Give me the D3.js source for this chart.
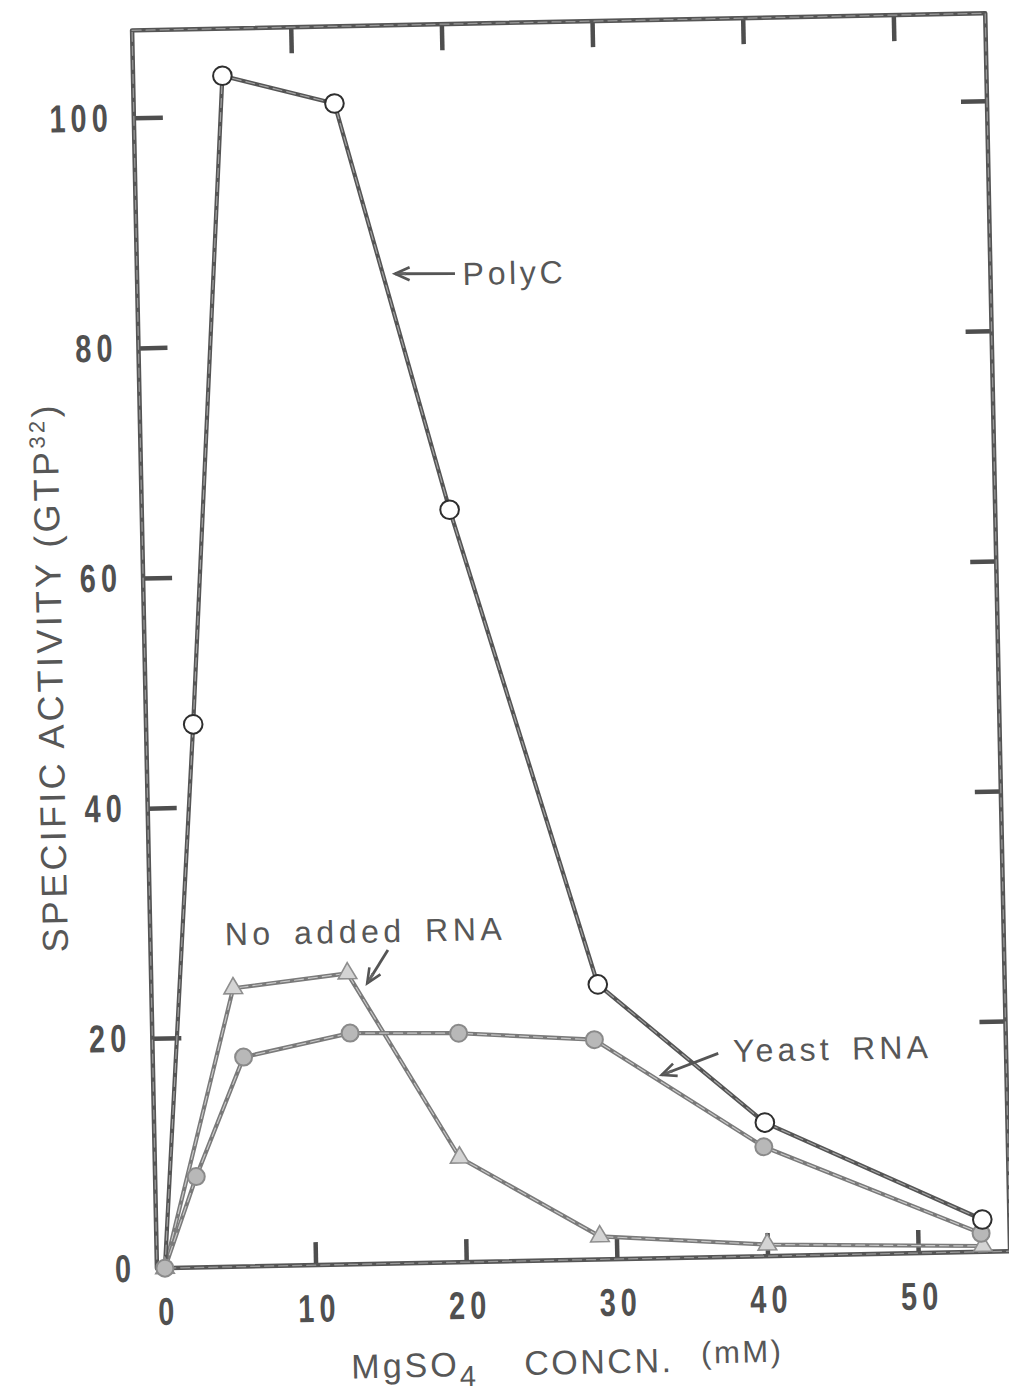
<!DOCTYPE html>
<html>
<head>
<meta charset="utf-8">
<script src="https://cdn.jsdelivr.net/npm/d3@7"></script>
<style>
  html, body { margin: 0; padding: 0; background: #fff; }
  svg { display: block; }
</style>
</head>
<body>
<svg id="chart" width="1009" height="1393"></svg>
<script>
// MgSO4 concentration (mM) vs specific activity (GTP32 incorporation)
const xTicks = [0, 10, 20, 30, 40, 50];
const yTicks = [0, 20, 40, 60, 80, 100];

const polyCConc     = [0, 2.6, 5.4, 12.8, 19.9, 29.1, 40.0, 54.3];
const polyCActivity = [0, 47.2, 103.5, 100.9, 65.4, 23.9, 11.6, 2.8];

const yeastConc     = [0, 2.2, 5.5, 12.6, 19.8, 28.8, 39.9, 54.2];
const yeastActivity = [0, 7.9, 18.2, 20.1, 19.9, 19.1, 9.5, 1.6];

const noRnaConc     = [0, 4.9, 12.5, 19.7, 28.9, 40.0, 54.3];
const noRnaActivity = [0, 24.2, 25.3, 9.1, 2.0, 1.0, 0.5];

const zip = (xs, ys) => xs.map((v, i) => [v, ys[i]]);

const svg = d3.select("#chart");
svg.append("rect").attr("width", 1009).attr("height", 1393).attr("fill", "#fff");

// the whole figure sits slightly tilted on the page
const g = svg.append("g").attr("transform", "rotate(-1.15, 565, 650)");

const x = d3.scaleLinear().domain([0, 50]).range([152.6, 906]);
const y = d3.scaleLinear().domain([0, 100]).range([1260, 109.3]);

const frame = { x0: x(-0.53), x1: x(56.1), y0: y(107.6), y1: y(0) };

const inkDark = "#4e4e4e";
const inkText = "#575757";
const digitFont = "'Liberation Sans', Arial, sans-serif";
const textFont = "'Liberation Sans', Arial, sans-serif";
const digitSqueeze = 0.74;

// doubled stroke gives the inked, slightly hollow line of the print
function inkPath(sel, d, outer, inner, w) {
  sel.append("path").attr("d", d).attr("fill", "none")
    .attr("stroke", outer).attr("stroke-width", w)
    .attr("stroke-linejoin", "round").attr("stroke-linecap", "round");
  sel.append("path").attr("d", d).attr("fill", "none")
    .attr("stroke", inner).attr("stroke-width", Math.max(1, w * 0.28))
    .attr("stroke-linejoin", "round").attr("stroke-linecap", "round")
    .attr("stroke-dasharray", "9 5");
}

// axes (ticks pointing inward); numerals are condensed like the typeset figures
function styleAxis(sel, hideZero) {
  sel.select(".domain").remove();
  sel.selectAll(".tick line").attr("stroke", inkDark).attr("stroke-width", 4.5);
  if (hideZero) sel.selectAll(".tick").filter(d => d === 0).select("line").remove();
  sel.selectAll(".tick text")
    .attr("fill", "#505050")
    .style("font-family", digitFont)
    .style("font-weight", "bold")
    .style("font-size", "39px")
    .style("letter-spacing", "7px");
}

const bottomAxis = g.append("g").attr("transform", `translate(0,${frame.y1})`)
  .call(d3.axisBottom(x).tickValues(xTicks).tickSize(-23).tickPadding(29).tickFormat(d3.format("d")))
  .call(s => styleAxis(s, true));
bottomAxis.selectAll(".tick text")
  .attr("transform", `scale(${digitSqueeze},1)`)
  .attr("dx", 3.5);

const leftAxis = g.append("g").attr("transform", `translate(${frame.x0},0)`)
  .call(d3.axisLeft(y).tickValues(yTicks).tickSize(-29).tickPadding(26 / digitSqueeze).tickFormat(d3.format("d")))
  .call(s => styleAxis(s, true));
leftAxis.selectAll(".tick text")
  .attr("transform", `scale(${digitSqueeze},1)`)
  .attr("dx", 7);

g.append("g").attr("transform", `translate(0,${frame.y0})`)
  .call(d3.axisTop(x).tickValues(xTicks.slice(1)).tickSize(-26).tickFormat(() => ""))
  .call(s => styleAxis(s, false));

g.append("g").attr("transform", `translate(${frame.x1},0)`)
  .call(d3.axisRight(y).tickValues(yTicks.slice(1)).tickSize(-26).tickFormat(() => ""))
  .call(s => styleAxis(s, false));

// frame
inkPath(g, `M${frame.x0},${frame.y0}H${frame.x1}V${frame.y1}H${frame.x0}Z`, "#555", "#9a9a9a", 4.5);

// series lines
const line = d3.line().x(d => x(d[0])).y(d => y(d[1]));
const polyC = zip(polyCConc, polyCActivity);
const yeast = zip(yeastConc, yeastActivity);
const noRna = zip(noRnaConc, noRnaActivity);

inkPath(g, line(noRna), "#7a7a7a", "#c9c9c9", 4.2);
inkPath(g, line(yeast), "#7a7a7a", "#c9c9c9", 4.2);
inkPath(g, line(polyC), "#555", "#a5a5a5", 4.2);

// markers
const tri = d3.symbol().type(d3.symbolTriangle).size(150);
g.append("g").selectAll("path").data(noRna).join("path")
  .attr("d", tri)
  .attr("transform", d => `translate(${x(d[0])},${y(d[1])})`)
  .attr("fill", "#d4d4d4").attr("stroke", "#8e8e8e").attr("stroke-width", 1.6);

g.append("g").selectAll("circle").data(yeast).join("circle")
  .attr("cx", d => x(d[0])).attr("cy", d => y(d[1])).attr("r", 8.5)
  .attr("fill", "#b8b8b8").attr("stroke", "#8a8a8a").attr("stroke-width", 2);

g.append("g").selectAll("circle").data(polyC.slice(1)).join("circle")
  .attr("cx", d => x(d[0])).attr("cy", d => y(d[1])).attr("r", 9.3)
  .attr("fill", "#fff").attr("stroke", "#2e2e2e").attr("stroke-width", 2);

// series annotations with arrows (positions in data units)
const annotations = [
  { text: "PolyC",        at: [21.08, 84.9],  width: 100, tail: [20.57, 85.9],  tip: [16.59, 86.0] },
  { text: "No added RNA", at: [4.41, 27.94],  width: 277, tail: [15.22, 27.25], tip: [13.80, 24.40] },
  { text: "Yeast RNA",    at: [37.98, 16.92], width: 195, tail: [37.0, 17.70],  tip: [33.22, 15.92] }
];

annotations.forEach(a => {
  g.append("text")
    .attr("x", x(a.at[0])).attr("y", y(a.at[1]))
    .attr("textLength", a.width).attr("lengthAdjust", "spacing")
    .attr("fill", inkText)
    .style("font-family", textFont).style("font-size", "32px")
    .style("word-spacing", "6px")
    .text(a.text);

  const tx = x(a.tail[0]), ty = y(a.tail[1]);
  const hx = x(a.tip[0]),  hy = y(a.tip[1]);
  const ang = Math.atan2(hy - ty, hx - tx);
  const L = 16, spread = 0.42;
  const b1 = [hx - L * Math.cos(ang - spread), hy - L * Math.sin(ang - spread)];
  const b2 = [hx - L * Math.cos(ang + spread), hy - L * Math.sin(ang + spread)];
  g.append("path")
    .attr("d", `M${tx},${ty}L${hx},${hy}`)
    .attr("stroke", "#555").attr("stroke-width", 2.8).attr("fill", "none");
  g.append("path")
    .attr("d", `M${b1[0]},${b1[1]}L${hx},${hy}L${b2[0]},${b2[1]}`)
    .attr("stroke", "#555").attr("stroke-width", 2.6).attr("fill", "none")
    .attr("stroke-linejoin", "miter");
  g.append("path")
    .attr("d", `M${hx},${hy}L${(b1[0] + hx) / 2 + (b2[0] - hx) / 4},${(b1[1] + hy) / 2 + (b2[1] - hy) / 4}L${(b2[0] + hx) / 2 + (b1[0] - hx) / 4},${(b2[1] + hy) / 2 + (b1[1] - hy) / 4}Z`)
    .attr("fill", "#666");
});

// axis titles
const yTitle = g.append("text")
  .attr("transform", "translate(62, 667) rotate(-90)")
  .attr("text-anchor", "middle")
  .attr("fill", inkText)
  .style("font-family", textFont).style("font-size", "36px").style("letter-spacing", "3.3px");
yTitle.append("tspan").text("SPECIFIC ACTIVITY (GTP");
yTitle.append("tspan").attr("dy", -13).style("font-size", "22px").text("32");
yTitle.append("tspan").attr("dy", 13).text(")");

const xTitle = g.append("text")
  .attr("x", 337).attr("y", 1374)
  .attr("fill", inkText)
  .style("font-family", textFont).style("font-size", "34px").style("letter-spacing", "3px");
xTitle.append("tspan").text("MgSO");
xTitle.append("tspan").attr("dy", 10).style("font-size", "29px").text("4");
xTitle.append("tspan").attr("x", 510).attr("dy", -10).style("letter-spacing", "2.5px").text("CONCN.");

g.append("text")
  .attr("x", 687).attr("y", 1366)
  .attr("fill", inkText)
  .style("font-family", textFont).style("font-size", "31px").style("letter-spacing", "2.5px")
  .text("(mM)");
</script>
</body>
</html>
